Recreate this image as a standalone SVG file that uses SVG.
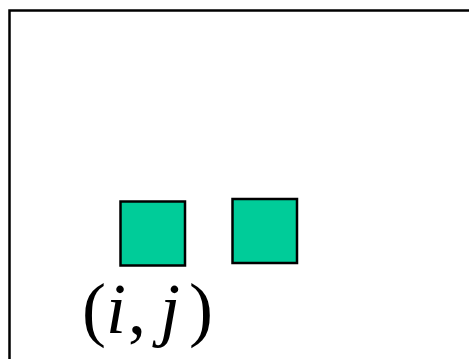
<svg xmlns="http://www.w3.org/2000/svg" width="469" height="359" viewBox="0 0 469 359">
<style>
.frame{fill:#fff;stroke:#000;stroke-width:2.5}
.cell{fill:#00cc99;stroke:#000;stroke-width:2.5}
.lbl{font-family:"Liberation Serif",serif;font-size:72px;fill:#000}
.it{font-style:italic}
</style>
<rect width="469" height="359" fill="#fff"/>
<rect class="frame" x="9.5" y="10.5" width="470" height="360"/>
<g id="cell-ij">
<rect class="cell" x="120.5" y="201.5" width="64.5" height="64"/>
</g>
<g id="cell-next">
<rect class="cell" x="232.5" y="199" width="64.5" height="64"/>
</g>
<g id="connectors"></g>
<g id="label">
<text class="lbl" y="333"><tspan x="82">(</tspan><tspan class="it" x="106">i</tspan><tspan x="128">,</tspan><tspan class="it" x="160">j</tspan><tspan x="189">)</tspan></text>
</g>
</svg>
